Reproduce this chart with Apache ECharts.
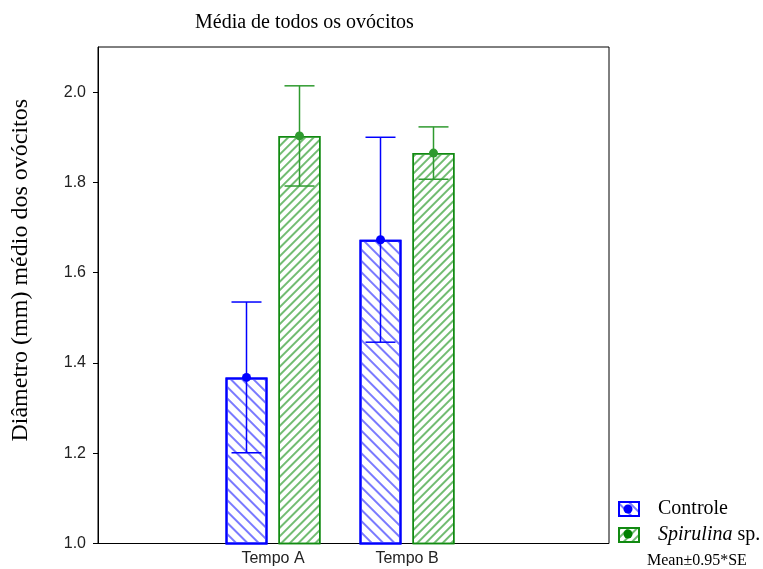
<!DOCTYPE html>
<html>
<head>
<meta charset="utf-8">
<script src="https://cdn.jsdelivr.net/npm/echarts@6/dist/echarts.min.js"></script>
<style>
  html, body { margin: 0; padding: 0; background: #fff; }
  #chart { width: 763px; height: 569px; }
</style>
</head>
<body>
<div id="chart"></div>
<script>
// Mean oocyte diameter per sampling time, with 95% confidence half-widths
const categories = ['Tempo A', 'Tempo B'];
const controleMean = [1.368, 1.673];
const controleErr = [0.167, 0.227];
const spirulinaMean = [1.903, 1.865];
const spirulinaErr = [0.111, 0.058];
const yTicks = [1.0, 1.2, 1.4, 1.6, 1.8, 2.0];

const BAR_W = 42;
const BAR_GAP = 11;
const SERIF = 'Liberation Serif';
const SANS = 'Liberation Sans';

const BLUE = '#0000ff';
const GREEN = '#118a11';

function errorBarSeries(name, means, errs, color, side) {
  return {
    type: 'custom',
    name: name + ' IC',
    xAxisIndex: 1,
    yAxisIndex: 1,
    z: 5,
    silent: true,
    data: means.map((m, i) => [i, m, errs[i]]),
    encode: { x: 0, y: 1 },
    renderItem(params, api) {
      const idx = api.value(0);
      const mean = api.value(1);
      const err = api.value(2);
      const c = api.coord([idx, mean]);
      const hi = api.coord([idx, mean + err]);
      const lo = api.coord([idx, mean - err]);
      const x = c[0] + side * (BAR_W + BAR_GAP) / 2;
      const half = 15;
      const st = { stroke: color, lineWidth: 1.5 };
      return {
        type: 'group',
        children: [
          { type: 'line', shape: { x1: x, y1: hi[1], x2: x, y2: lo[1] }, style: st },
          { type: 'line', shape: { x1: x - half, y1: hi[1], x2: x + half, y2: hi[1] }, style: st },
          { type: 'line', shape: { x1: x - half, y1: lo[1], x2: x + half, y2: lo[1] }, style: st },
          { type: 'circle', shape: { cx: x, cy: c[1], r: 4.5 }, style: { fill: color } }
        ]
      };
    }
  };
}

const chart = echarts.init(document.getElementById('chart'), null, { renderer: 'canvas' });

chart.setOption({
  animation: false,
  backgroundColor: '#fff',
  title: {
    text: 'Média de todos os ovócitos',
    left: 190,
    top: 8,
    textStyle: { fontFamily: SERIF, fontSize: 20, fontWeight: 'normal', color: '#000' }
  },
  legend: {
    orient: 'vertical',
    left: 613,
    top: 494,
    itemWidth: 20,
    itemHeight: 14,
    itemGap: 6,
    data: ['Controle', 'Spirulina sp.'],
    icon: 'rect',
    selectedMode: false,
    formatter: n => n === 'Spirulina sp.' ? '{i|Spirulina} sp.' : '{r|' + n + '}',
    textStyle: {
      fontFamily: SERIF, fontSize: 20, lineHeight: 19, color: '#000', padding: [0, 0, 0, 14],
      rich: {
        i: { fontStyle: 'italic', fontFamily: SERIF, fontSize: 20, lineHeight: 19, color: '#000' },
        r: { fontFamily: SERIF, fontSize: 20, lineHeight: 19, color: '#000' }
      }
    }
  },
  grid: [
    // plot frame with the value axis
    { left: 98, right: 154, top: 47, bottom: 25.5, show: true, borderColor: '#000', borderWidth: 1, backgroundColor: 'transparent' },
    // band holding the two sampling times
    { left: 206, right: 289, top: 47, bottom: 25.5 }
  ],
  xAxis: [
    { gridIndex: 0, type: 'value', min: 0, max: 1, show: false },
    {
      gridIndex: 1, type: 'category', data: categories,
      axisLine: { show: false }, axisTick: { show: false },
      axisLabel: { fontFamily: SANS, fontSize: 16, color: '#222', margin: 7 }
    }
  ],
  yAxis: [
    {
      gridIndex: 0, type: 'value', min: 1.0, max: 2.1, interval: 0.2,
      axisLine: { show: true, lineStyle: { color: '#000', width: 1 } },
      axisTick: { show: true, length: 5, lineStyle: { color: '#000' }, customValues: yTicks },
      splitLine: { show: false },
      axisLabel: {
        fontFamily: SANS, fontSize: 16, color: '#222', margin: 12,
        customValues: yTicks,
        formatter: v => v.toFixed(1)
      },
      name: 'Diâmetro (mm) médio dos ovócitos',
      nameLocation: 'middle',
      nameRotate: 90,
      nameGap: 65,
      nameTextStyle: { fontFamily: SERIF, fontSize: 24, color: '#000', padding: [0, 0, 0, 50] }
    },
    { gridIndex: 1, type: 'value', min: 1.0, max: 2.1, show: false, splitLine: { show: false } }
  ],
  series: [
    {
      type: 'bar', name: 'Controle', xAxisIndex: 1, yAxisIndex: 1,
      data: controleMean, barWidth: BAR_W, barGap: (BAR_GAP / BAR_W * 100) + '%',
      itemStyle: {
        color: '#fff', borderColor: BLUE, borderWidth: 2,
        decal: { symbol: 'rect', symbolSize: 1, dashArrayX: [1, 0], dashArrayY: [1.2, 5.3], rotation: Math.PI / 4, color: '#7a7aff' }
      }
    },
    {
      type: 'bar', name: 'Spirulina sp.', xAxisIndex: 1, yAxisIndex: 1,
      data: spirulinaMean, barWidth: BAR_W,
      itemStyle: {
        color: '#fff', borderColor: GREEN, borderWidth: 1.5,
        decal: { symbol: 'rect', symbolSize: 1, dashArrayX: [1, 0], dashArrayY: [1.1, 3.7], rotation: -Math.PI / 4, color: '#72bc72' }
      }
    },
    errorBarSeries('Controle', controleMean, controleErr, BLUE, -1),
    errorBarSeries('Spirulina sp.', spirulinaMean, spirulinaErr, '#2f9a2f', 1)
  ],
  graphic: [
    { type: 'circle', shape: { cx: 628, cy: 509, r: 4.5 }, style: { fill: BLUE }, z: 100 },
    { type: 'circle', shape: { cx: 628, cy: 534, r: 4.5 }, style: { fill: '#008000' }, z: 100 },
    {
      type: 'text', left: 647, top: 553,
      style: { text: 'Mean±0.95*SE', fontFamily: SERIF, fontSize: 16, fill: '#000' }
    }
  ]
});
</script>
</body>
</html>
